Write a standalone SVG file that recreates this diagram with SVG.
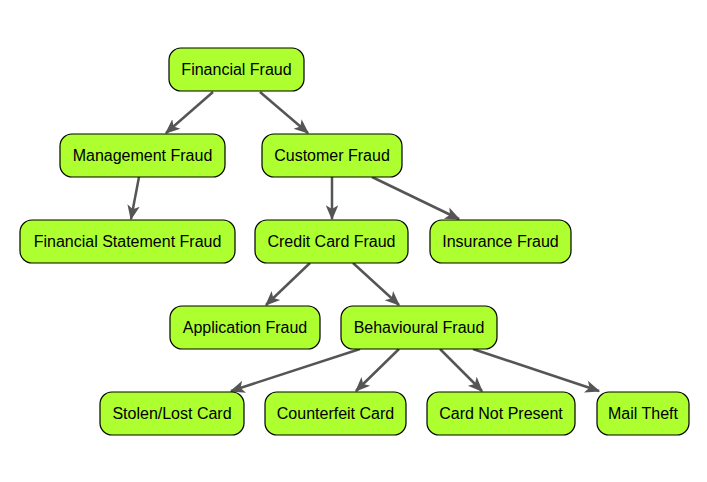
<svg xmlns="http://www.w3.org/2000/svg" width="707" height="482" viewBox="0 0 707 482">
<style>
.n rect{fill:#adff2f;stroke:#000;stroke-width:1.2}
.n text{font-family:"Liberation Sans",Arial,sans-serif;font-size:16px;fill:#000;text-anchor:middle;dominant-baseline:central}
.e line{stroke:#555;stroke-width:2.5;marker-end:url(#ah)}
</style>
<defs>
<marker id="ah" viewBox="0 0 12 10" refX="11" refY="5" markerWidth="6" markerHeight="6" orient="auto" markerUnits="strokeWidth">
<path d="M0,0 L12,5 L0,10 L3,5 z" fill="#555"/>
</marker>
</defs>
<rect width="707" height="482" fill="#fff"/>
<g class="e">
<line x1="213" y1="92" x2="166" y2="133"/>
<line x1="260" y1="92" x2="308" y2="133"/>
<line x1="139" y1="177" x2="131" y2="219"/>
<line x1="332" y1="177" x2="332" y2="219"/>
<line x1="372" y1="177" x2="459" y2="219"/>
<line x1="310" y1="263" x2="266" y2="305"/>
<line x1="353" y1="263" x2="399" y2="305"/>
<line x1="360" y1="349" x2="231" y2="391"/>
<line x1="399" y1="349" x2="356" y2="391"/>
<line x1="440" y1="349" x2="482" y2="391"/>
<line x1="473" y1="349" x2="599" y2="391"/>
</g>
<g id="financial-fraud" class="n"><rect x="169" y="48" width="135" height="43" rx="12"/><text x="236.5" y="69.5">Financial Fraud</text></g>
<g id="management-fraud" class="n"><rect x="60" y="134" width="165" height="43" rx="12"/><text x="142.5" y="155.5">Management Fraud</text></g>
<g id="customer-fraud" class="n"><rect x="262" y="134" width="140" height="43" rx="12"/><text x="332" y="155.5">Customer Fraud</text></g>
<g id="financial-statement-fraud" class="n"><rect x="20" y="220" width="215" height="43" rx="12"/><text x="127.5" y="241.5">Financial Statement Fraud</text></g>
<g id="credit-card-fraud" class="n"><rect x="255" y="220" width="153" height="43" rx="12"/><text x="331.5" y="241.5">Credit Card Fraud</text></g>
<g id="insurance-fraud" class="n"><rect x="430" y="220" width="141" height="43" rx="12"/><text x="500.5" y="241.5">Insurance Fraud</text></g>
<g id="application-fraud" class="n"><rect x="170" y="306" width="150" height="43" rx="12"/><text x="245" y="327.5">Application Fraud</text></g>
<g id="behavioural-fraud" class="n"><rect x="341" y="306" width="156" height="43" rx="12"/><text x="419" y="327.5">Behavioural Fraud</text></g>
<g id="stolen-lost-card" class="n"><rect x="100" y="392" width="144" height="43" rx="12"/><text x="172" y="413.5">Stolen/Lost Card</text></g>
<g id="counterfeit-card" class="n"><rect x="265" y="392" width="141" height="43" rx="12"/><text x="335.5" y="413.5">Counterfeit Card</text></g>
<g id="card-not-present" class="n"><rect x="427" y="392" width="148" height="43" rx="12"/><text x="501" y="413.5">Card Not Present</text></g>
<g id="mail-theft" class="n"><rect x="597" y="392" width="92" height="43" rx="12"/><text x="643" y="413.5">Mail Theft</text></g>
</svg>
